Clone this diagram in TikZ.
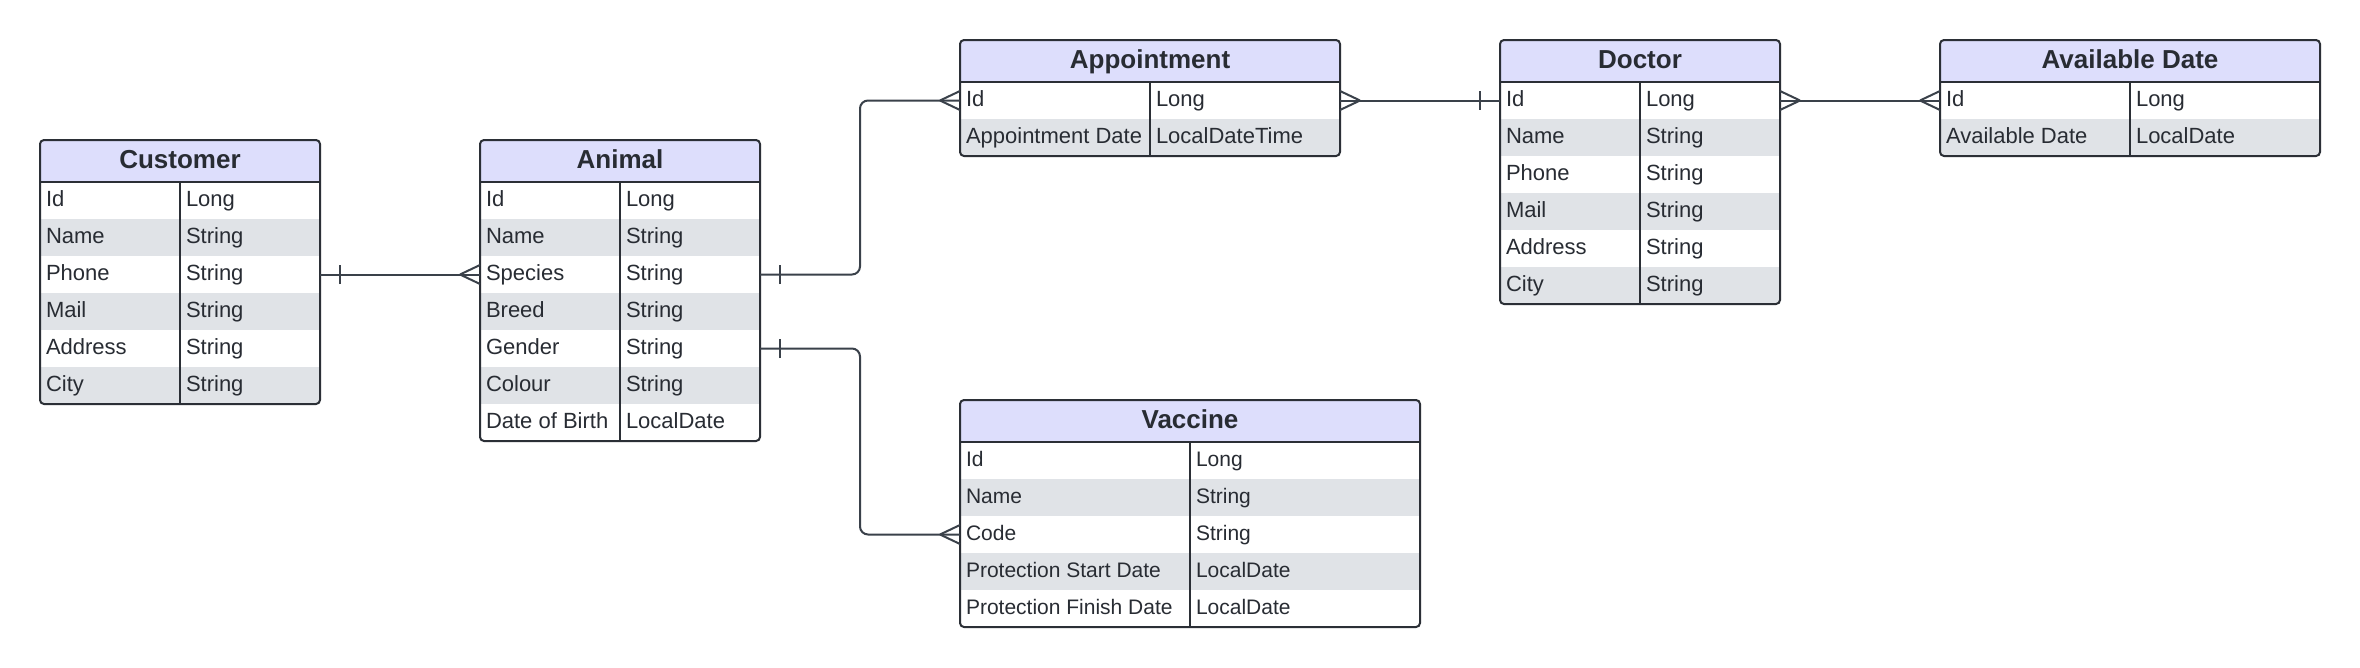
\documentclass[tikz,border=0pt]{standalone}
\usepackage{fontspec}
\setmainfont{Liberation Sans}
\usetikzlibrary{calc}
\definecolor{hdrfill}{HTML}{DDDEFC}
\definecolor{rowgray}{HTML}{E0E3E7}
\definecolor{edgec}{HTML}{2B2F36}
\definecolor{txt}{HTML}{282C33}
\definecolor{linec}{HTML}{3A414A}
\def\cellfs{22}
\tikzset{
  rowbox/.style={rectangle, anchor=north west, minimum height=37, inner sep=0, outer sep=0, draw=none},
  celltext/.style={anchor=base west, inner sep=0, outer sep=0, text=txt, font=\fontsize{\cellfs}{26}\selectfont},
  titletext/.style={anchor=base, inner sep=0, outer sep=0, text=txt, font=\bfseries\fontsize{26}{30}\selectfont},
  edgeline/.style={draw=edgec, line width=2},
  conn/.style={draw=linec, line width=2},
  crow/.pic={\draw[conn] (-20,0) -- (0,9.5) (-20,0) -- (0,-9.5);},
  onebar/.pic={\draw[conn] (-20,-9.5) -- (-20,9.5);},
}
% #1 name #2 x #3 y #4 w1 #5 w2 #6 title #7 nrows #8 rows
\newcommand{\ertable}[8]{%
  \pgfmathsetmacro\tw{#4+#5}%
  \pgfmathsetmacro\tb{#3+42+#7*37}%
  \begin{scope}
    \clip[rounded corners=4] (#2,#3) rectangle (#2+\tw,\tb);
    \fill[hdrfill] (#2,#3) rectangle (#2+\tw,#3+42);
    \foreach \a/\b [count=\i] in {#8} {
      \pgfmathsetmacro\yy{#3+42+(\i-1)*37}
      \ifodd\i\def\rowcol{white}\else\def\rowcol{rowgray}\fi
      \node[rowbox, minimum width=\tw, fill=\rowcol] (#1-\i) at (#2,\yy) {};
      \node[celltext] (#1-\i-a) at (#2+6,\yy+24) {\a};
      \node[celltext] (#1-\i-b) at (#2+#4+6,\yy+24) {\b};
    }
  \end{scope}
  \node[titletext] (#1) at (#2+\tw/2,#3+28) {#6};
  \draw[edgeline] (#2,#3+42) -- (#2+\tw,#3+42);
  \draw[edgeline] (#2+#4,#3+42) -- (#2+#4,\tb);
  \draw[edgeline, rounded corners=4] (#2,#3) rectangle (#2+\tw,\tb);
}
\begin{document}
\begin{tikzpicture}[x=1pt, y=-1pt]
\useasboundingbox (0,0) rectangle (2360,667);
\fill[white] (0,0) rectangle (2360,667);

\ertable{cust}{40}{140}{140}{140}{Customer}{6}{Id/Long,Name/String,Phone/String,Mail/String,Address/String,City/String}
\ertable{anim}{480}{140}{140}{140}{Animal}{7}{Id/Long,Name/String,Species/String,Breed/String,Gender/String,Colour/String,Date of Birth/LocalDate}
\ertable{appt}{960}{40}{190}{190}{Appointment}{2}{Id/Long,Appointment Date/LocalDateTime}
\ertable{doc}{1500}{40}{140}{140}{Doctor}{6}{Id/Long,Name/String,Phone/String,Mail/String,Address/String,City/String}
\ertable{avd}{1940}{40}{190}{190}{Available Date}{2}{Id/Long,Available Date/LocalDate}
\def\cellfs{21}
\ertable{vacc}{960}{400}{230}{230}{Vaccine}{5}{Id/Long,Name/String,Code/String,Protection Start Date/LocalDate,Protection Finish Date/LocalDate}

\coordinate (vx) at (860,0);

\draw[conn] (cust-3.east) -- (anim-3.west);
\pic[rotate=180] at (cust-3.east) {onebar};
\pic at (anim-3.west) {crow};

\draw[conn, rounded corners=8] (anim-3.east) -- (anim-3.east -| vx) |- (appt-1.west);
\pic[rotate=180] at (anim-3.east) {onebar};
\pic at (appt-1.west) {crow};

\draw[conn, rounded corners=8] (anim-5.east) -- (anim-5.east -| vx) |- (vacc-3.west);
\pic[rotate=180] at (anim-5.east) {onebar};
\pic at (vacc-3.west) {crow};

\draw[conn] (appt-1.east) -- (doc-1.west);
\pic[rotate=180] at (appt-1.east) {crow};
\pic at (doc-1.west) {onebar};

\draw[conn] (doc-1.east) -- (avd-1.west);
\pic[rotate=180] at (doc-1.east) {crow};
\pic at (avd-1.west) {crow};
\end{tikzpicture}
\end{document}
